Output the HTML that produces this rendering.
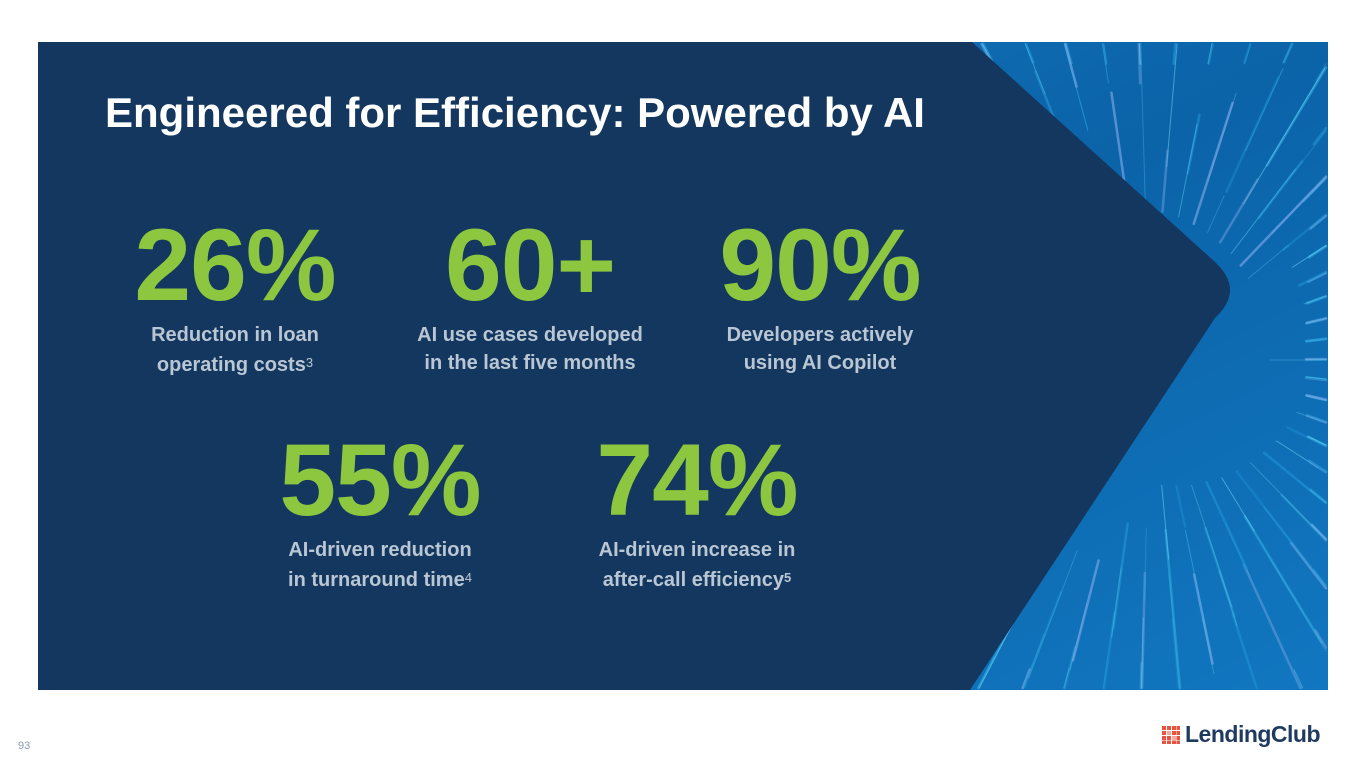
<!DOCTYPE html>
<html><head><meta charset="utf-8"><style>
html,body{margin:0;padding:0;width:1365px;height:768px;background:#fff;overflow:hidden;font-family:"Liberation Sans",Arial,sans-serif}
.abs{position:absolute}
.title{left:105px;top:89px;color:#fff;font-weight:bold;font-size:42px;white-space:nowrap}
.stat{position:absolute;text-align:center;width:320px}
.num{color:#8dc63f;font-weight:bold;font-size:102px;line-height:100px;letter-spacing:-1px}
.lab{color:#b9c6d3;font-weight:bold;font-size:20px;line-height:28px;margin-top:6px}
sup{font-size:13px;font-weight:normal;vertical-align:4px}
</style></head><body>
<svg class="abs" style="left:0;top:0;overflow:hidden" width="1365" height="768">
<defs><linearGradient id="bg" x1="0" y1="0" x2="1" y2="1"><stop offset="0" stop-color="#1a7cc4"/><stop offset="0.5" stop-color="#0b63a8"/><stop offset="1" stop-color="#1177c0"/></linearGradient>
<clipPath id="pc"><rect x="38" y="42" width="1290" height="648"/></clipPath></defs>
<rect x="38" y="42" width="1290" height="648" fill="url(#bg)"/>
<g id="streaks" clip-path="url(#pc)" stroke-linecap="round"></g>
<path d="M38,42 L972,42 L1215,262 Q1245,290 1215,318 L970,690 L38,690 Z" fill="#13375e"/>
</svg>
<div class="abs title">Engineered for Efficiency: Powered by AI</div>
<div class="stat" style="left:75px;top:215px"><div class="num">26%</div><div class="lab">Reduction in loan<br>operating costs<sup>3</sup></div></div>
<div class="stat" style="left:370px;top:215px"><div class="num">60+</div><div class="lab">AI use cases developed<br>in the last five months</div></div>
<div class="stat" style="left:660px;top:215px"><div class="num">90%</div><div class="lab">Developers actively<br>using AI Copilot</div></div>
<div class="stat" style="left:220px;top:430px"><div class="num">55%</div><div class="lab">AI-driven reduction<br>in turnaround time<sup>4</sup></div></div>
<div class="stat" style="left:537px;top:430px"><div class="num">74%</div><div class="lab">AI-driven increase in<br>after-call efficiency<sup style="font-weight:bold">5</sup></div></div>
<div class="abs" style="left:18px;top:740px;font-size:11px;color:#8a99aa">93</div>
<div class="abs" style="left:1162px;top:721px;display:flex;align-items:center">
<svg width="18" height="18" style="margin-right:5px">
<g fill="#e8543f">
<rect x="0" y="0" width="4" height="4"/><rect x="5" y="0" width="4" height="4"/><rect x="10" y="0" width="4" height="4"/><rect x="14.5" y="0" width="3.5" height="4"/>
<rect x="0" y="5" width="4" height="4"/><rect x="5" y="5" width="4" height="4" opacity=".5"/><rect x="10" y="5" width="4" height="4"/><rect x="14.5" y="5" width="3.5" height="4"/>
<rect x="0" y="10" width="4" height="4"/><rect x="5" y="10" width="4" height="4"/><rect x="10" y="10" width="4" height="4" opacity=".5"/><rect x="14.5" y="10" width="3.5" height="4"/>
<rect x="0" y="14.5" width="4" height="3.5"/><rect x="5" y="14.5" width="4" height="3.5"/><rect x="10" y="14.5" width="4" height="3.5"/><rect x="14.5" y="14.5" width="3.5" height="3.5"/>
</g></svg>
<span style="font-size:23px;font-weight:bold;color:#1f3a5f;letter-spacing:-0.5px">LendingClub</span>
</div>
<script>
var g=document.getElementById('streaks');
var cx=1150,cy=360;
var cols=['#4fc3ea','#2fa6de','#6ad4f2','#7aa6e8','#3bb4e6','#1e90d4'];
function maxR(dx,dy){
  var t=1e9;
  if(dx>0)t=Math.min(t,(1326-cx)/dx); if(dx<0)t=Math.min(t,(40-cx)/dx);
  if(dy>0)t=Math.min(t,(688-cy)/dy); if(dy<0)t=Math.min(t,(44-cy)/dy);
  return t;
}
for(var i=0;i<220;i++){
  var a=(i*2.399)%(Math.PI*2);
  var dx=Math.cos(a),dy=Math.sin(a),m=maxR(dx,dy);
  var r1=Math.min(120+((i*37)%260),m-20),r2=Math.min(r1+40+((i*53)%120),m);
  if(r1<60)continue;
  var l=document.createElementNS('http://www.w3.org/2000/svg','line');
  l.setAttribute('x1',cx+dx*r1);l.setAttribute('y1',cy+dy*r1);
  l.setAttribute('x2',cx+dx*r2);l.setAttribute('y2',cy+dy*r2);
  l.setAttribute('stroke',cols[i%cols.length]);
  l.setAttribute('stroke-width',1+(i%2)*1.5);
  l.setAttribute('opacity',0.35+0.1*(i%4));
  
  
  g.appendChild(l);
}
</script>
</body></html>
